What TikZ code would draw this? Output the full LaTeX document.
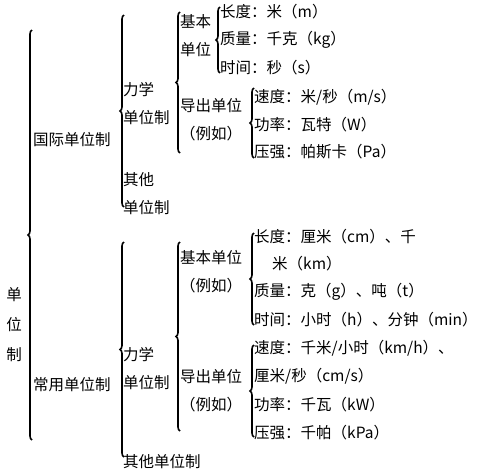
\documentclass[tikz,border=0pt]{standalone}
\usepackage{fontspec}
\newfontfamily\cjk{Noto Sans CJK SC}
\usetikzlibrary{decorations.pathreplacing}
\tikzset{
    txt/.style = {anchor=west, inner sep=0pt, align=left, font=\cjk\fontsize{15.5}{28}\selectfont},
    vtxt/.style = {inner sep=0pt, align=center, font=\cjk\fontsize{15.5}{30}\selectfont},
    brc/.style = {decorate, decoration={brace, amplitude=4pt}, line width=1.6pt},
}
\begin{document}
\begin{tikzpicture}[x=1pt, y=-1pt]
\useasboundingbox (0,0) rectangle (477,474);
%
\node[vtxt] (dwz) at (14,325) {单\\位\\制};
\draw[brc] (32,440) -- (32,30);
%
\node[txt] (gj) at (33,140) {国际单位制};
\node[txt] (cy) at (33,385) {常用单位制};
\draw[brc] (124,207) -- (124,15);
\draw[brc] (124,457) -- (124,242);
%
\node[txt] (gjlx) at (123,104) {力学\\单位制};
\node[txt] (gjqt) at (123,194) {其他\\单位制};
\node[txt] (cylx) at (123,369) {力学\\单位制};
\node[txt] (cyqt) at (123,462) {其他单位制};
\draw[brc] (180,153) -- (180,12);
\draw[brc] (180,431) -- (180,242);
%
\node[txt] (gjjb) at (180,36) {基本\\单位};
\node[txt] (gjdc) at (180,120) {导出单位\\（例如）};
\node[txt] (cyjb) at (180,272) {基本单位\\（例如）};
\node[txt] (cydc) at (180,391) {导出单位\\（例如）};
\draw[brc] (220,73) -- (220,7);
\draw[brc] (254,158) -- (254,88);
\draw[brc] (254,325) -- (254,233);
\draw[brc] (254,437) -- (254,345);
%
\node[txt] (gc1) at (220,12) {长度：米（m）};
\node[txt] (gc2) at (220,40) {质量：千克（kg）};
\node[txt] (gc3) at (220,68) {时间：秒（s）};
\node[txt] (gd1) at (254,97) {速度：米/秒（m/s）};
\node[txt] (gd2) at (254,125) {功率：瓦特（W）};
\node[txt] (gd3) at (254,152) {压强：帕斯卡（Pa）};
%
\node[txt] (cc1) at (254,237) {长度：厘米（cm）、千};
\node[txt] (cc1b) at (272,264) {米（km）};
\node[txt] (cc2) at (254,292) {质量：克（g）、吨（t）};
\node[txt] (cc3) at (254,320) {时间：小时（h）、分钟（min）};
\node[txt] (cd1) at (254,348) {速度：千米/小时（km/h）、};
\node[txt] (cd1b) at (254,376) {厘米/秒（cm/s）};
\node[txt] (cd2) at (254,405) {功率：千瓦（kW）};
\node[txt] (cd3) at (254,433) {压强：千帕（kPa）};
\end{tikzpicture}
\end{document}
